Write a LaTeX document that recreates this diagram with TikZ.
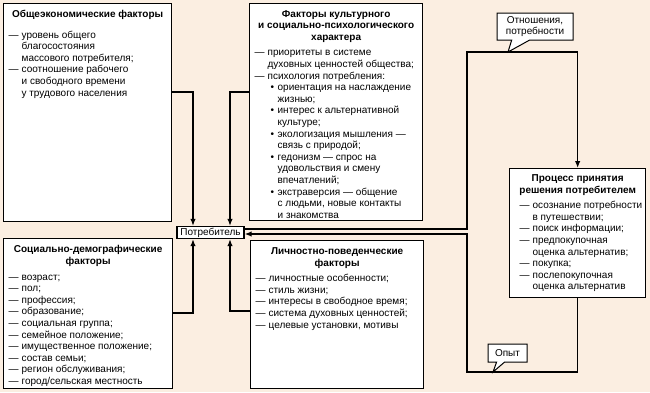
\documentclass[tikz,border=0pt]{standalone}
\usepackage{fontspec}
\setmainfont{Liberation Sans}
\usetikzlibrary{arrows.meta,shapes.callouts}

\definecolor{paper}{RGB}{251,238,225}

\newcommand\ditem[1]{\par\hangindent=13pt\hangafter=1\noindent\makebox[13pt][l]{—}{\let\\\newline#1}}
\newcommand\bitem[1]{\par\hangindent=23pt\hangafter=1\noindent\hspace*{16pt}\makebox[7pt][l]{\textbullet}{\let\\\newline#1}}
\newcommand\boxtitle[1]{{\centering\bfseries #1\par}\vspace{4pt}}
\newcommand\boxbody[3]{\parbox[c][#1][t]{#2}{\raggedright #3}}

\tikzstyle{every node}=[inner sep=0pt, font=\fontsize{10}{11.6}\selectfont]
\tikzstyle{factor}=[draw, fill=white, line width=1.3pt, anchor=north west, inner xsep=5pt, inner ysep=7pt]
\tikzstyle{hub}=[draw, fill=white, line width=1.3pt, minimum width=67pt, minimum height=12pt]
\tikzstyle{note}=[draw, fill=white, line width=1pt, rectangle callout, align=center]
\tikzstyle{flow}=[line width=1.3pt, -{Latex[length=7pt,width=5.5pt]}]

\begin{document}
\begin{tikzpicture}[x=1pt, y=-1pt]
    \useasboundingbox [fill=paper] (0,0) rectangle (650,392);

    \node [factor] (econ) at (3,2.5) {\boxbody{204pt}{158pt}{%
        \boxtitle{Общеэкономические факторы}\vspace{5pt}
        \ditem{уровень общего\\благосостояния\\массового потребителя;}
        \ditem{соотношение рабочего\\и свободного времени\\у трудового населения}}};
    \node [factor] (culture) at (249,2.5) {\boxbody{203pt}{163pt}{%
        \boxtitle{Факторы культурного\\и социально-психологического\\характера}
        \ditem{приоритеты в системе\\духовных ценностей общества;}
        \ditem{психология потребления:}
        \bitem{ориентация на наслаждение\\жизнью;}
        \bitem{интерес к альтернативной\\культуре;}
        \bitem{экологизация мышления —\\связь с природой;}
        \bitem{гедонизм — спрос на\\удовольствия и смену\\впечатлений;}
        \bitem{экстраверсия — общение\\с людьми, новые контакты\\и знакомства}}};
    \node [factor] (socdem) at (3,238) {\boxbody{136pt}{159pt}{%
        \boxtitle{Социально-демографические\\факторы}
        \ditem{возраст;}
        \ditem{пол;}
        \ditem{профессия;}
        \ditem{образование;}
        \ditem{социальная группа;}
        \ditem{семейное положение;}
        \ditem{имущественное положение;}
        \ditem{состав семьи;}
        \ditem{регион обслуживания;}
        \ditem{город/сельская местность}}};
    \node [factor] (person) at (250,240) {\boxbody{134pt}{163pt}{%
        \boxtitle{Личностно-поведенческие\\факторы}
        \ditem{личностные особенности;}
        \ditem{стиль жизни;}
        \ditem{интересы в свободное время;}
        \ditem{система духовных ценностей;}
        \ditem{целевые установки, мотивы}}};
    \node [factor, inner xsep=2pt, inner ysep=6pt] (decision) at (509,168) {\boxbody{117pt}{132pt}{%
        \boxtitle{Процесс принятия\\решения потребителем}\leftskip=8pt
        \ditem{осознание потребности\\в путешествии;}
        \ditem{поиск информации;}
        \ditem{предпокупочная\\оценка альтернатив;}
        \ditem{покупка;}
        \ditem{послепокупочная\\оценка альтернатив}}};
    \node [hub] (consumer) at (210.5,232.5) {Потребитель};

    \coordinate (upturn) at (467,52);
    \coordinate (downturn) at (467,372);

    \draw [flow] (econ.east |- 0,92) -| ([xshift=-17.5pt]consumer.north);
    \draw [flow] (culture.west |- 0,92) -| ([xshift=19.5pt]consumer.north);
    \draw [flow] (socdem.east |- 0,313) -| ([xshift=-17.5pt]consumer.south);
    \draw [flow] (person.west |- 0,311) -| ([xshift=19.5pt]consumer.south);
    \draw [flow] ([yshift=3.5pt]consumer.east) -| (upturn) -| (decision.north);
    \draw [flow] (decision.south) |- (downturn) |- ([yshift=-1.5pt]consumer.east);

    \node [note, minimum width=76pt, minimum height=27pt, callout pointer width=18pt,
        callout absolute pointer={(508,52)}] (needs) at (535,26.5) {Отношения,\\потребности};
    \node [note, minimum width=39pt, minimum height=18pt, callout pointer width=8pt,
        callout absolute pointer={(493,372)}] (exp) at (507.5,353) {Опыт};
\end{tikzpicture}
\end{document}
